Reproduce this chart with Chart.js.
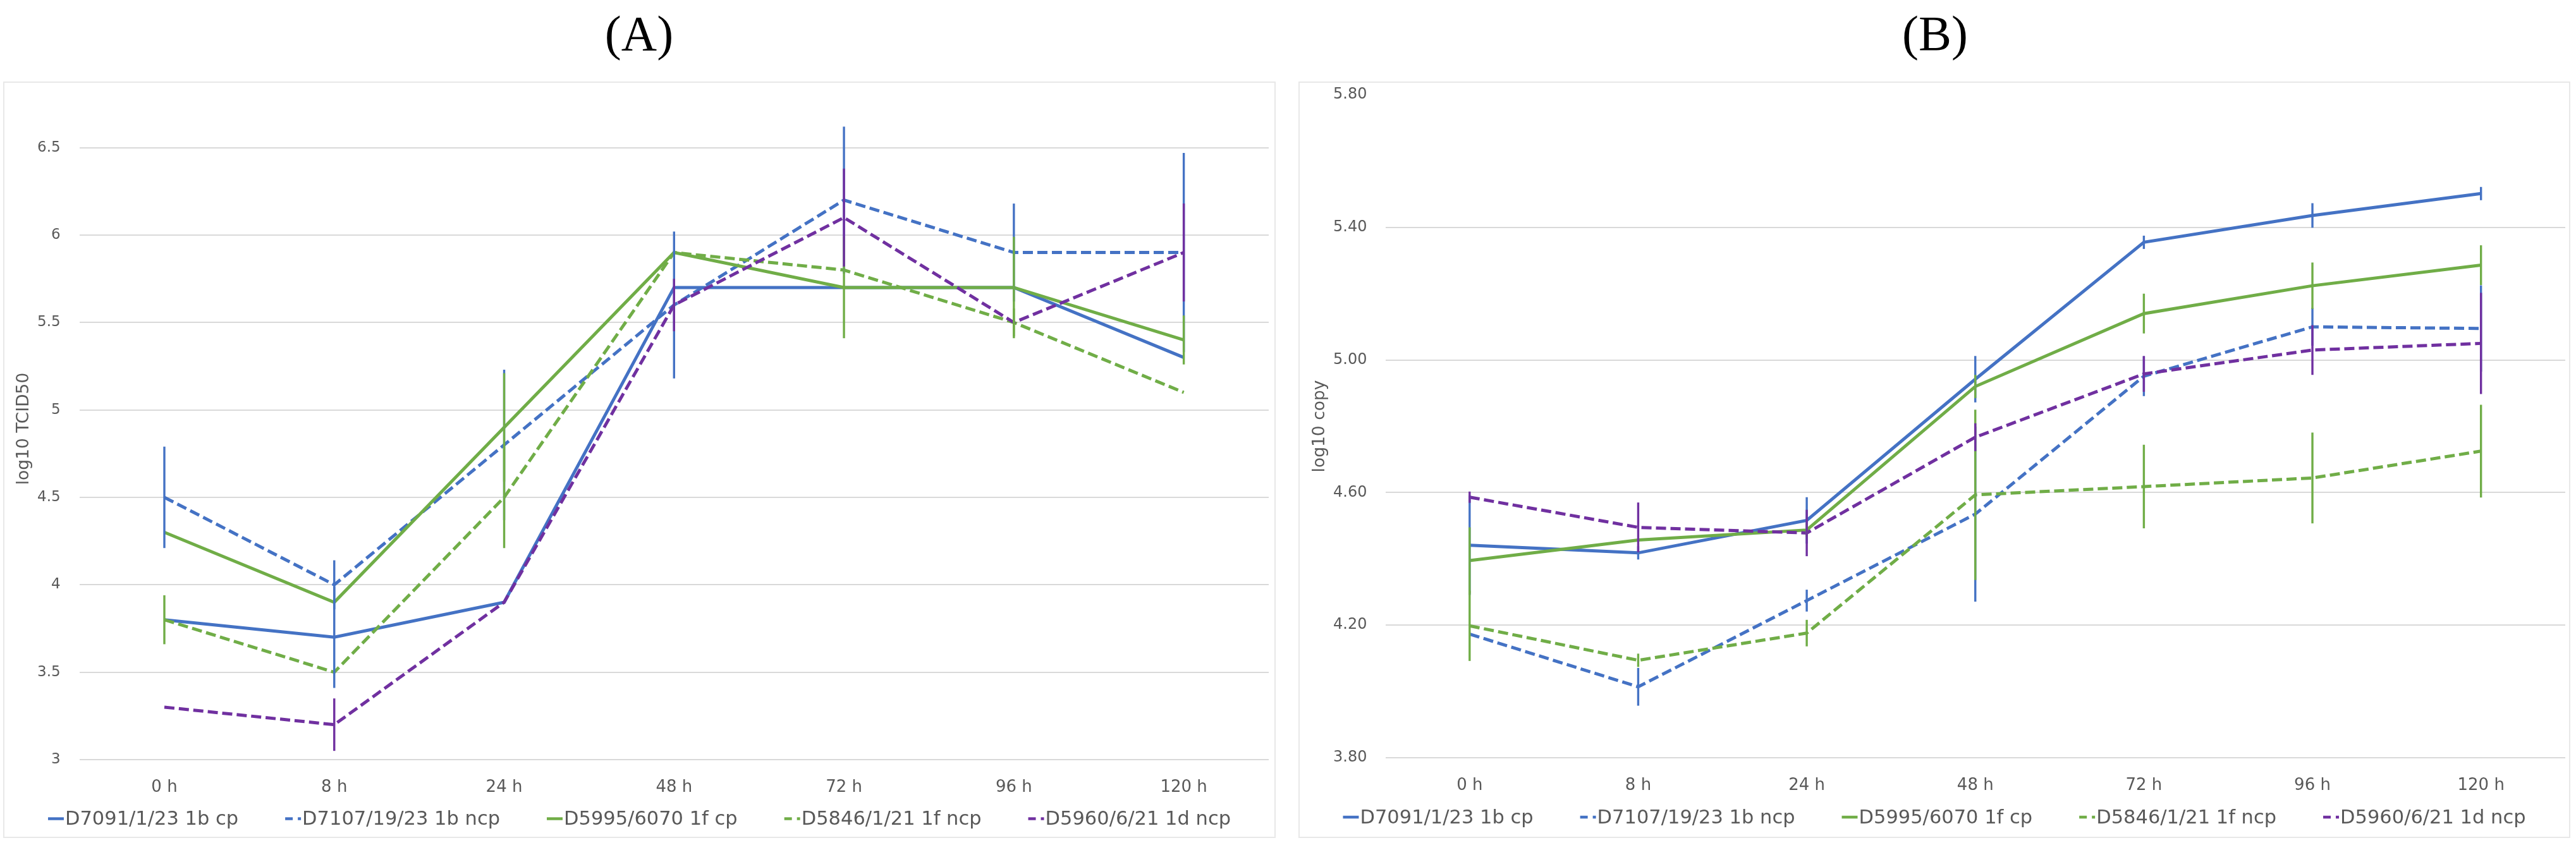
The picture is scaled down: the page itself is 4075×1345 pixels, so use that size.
<!DOCTYPE html>
<html><head><meta charset="utf-8">
<script src="https://cdn.jsdelivr.net/npm/chart.js@4.4.1/dist/chart.umd.min.js"></script>
<style>
html,body{margin:0;padding:0;background:#fff;width:4075px;height:1345px;overflow:hidden;}
.panel{position:absolute;top:129px;height:1197px;}
.ttl{position:absolute;top:14px;font-family:"Liberation Serif","Times New Roman",serif;font-size:78px;line-height:78px;width:400px;text-align:center;color:#000;}
</style></head><body>
<div class="ttl" style="left:811px">(A)</div>
<div class="ttl" style="left:2861px">(B)</div>
<div class="panel" style="left:5px;width:2013px"><canvas id="cA"></canvas></div>
<div class="panel" style="left:2054px;width:2012px"><canvas id="cB"></canvas></div>
<script>
// ---------- data ----------
const categories = ['0 h', '8 h', '24 h', '48 h', '72 h', '96 h', '120 h'];
const seriesNames = ['D7091/1/23 1b cp', 'D7107/19/23 1b ncp', 'D5995/6070 1f cp', 'D5846/1/21 1f ncp', 'D5960/6/21 1d ncp'];

// Panel A: log10 TCID50
const tcidD7091 = [3.8, 3.7, 3.9, 5.7, 5.7, 5.7, 5.3];
const tcidD7107 = [4.5, 4.0, 4.8, 5.6, 6.2, 5.9, 5.9];
const tcidD5995 = [4.3, 3.9, 4.9, 5.9, 5.7, 5.7, 5.4];
const tcidD5846 = [3.8, 3.5, 4.5, 5.9, 5.8, 5.5, 5.1];
const tcidD5960 = [3.3, 3.2, 3.9, 5.6, 6.1, 5.5, 5.9];
// Panel A error (±)
const tcidErrD7091 = [0, 0.29, 0, 0, 0, 0, 0];
const tcidErrD7107 = [0.29, 0.14, 0.43, 0.42, 0.42, 0.28, 0.57];
const tcidErrD5995 = [0, 0, 0.31, 0, 0.29, 0.29, 0.14];
const tcidErrD5846 = [0.14, 0, 0.29, 0, 0, 0.08, 0];
const tcidErrD5960 = [0, 0.15, 0, 0.15, 0.28, 0, 0.28];
const tcidTicks = [3, 3.5, 4, 4.5, 5, 5.5, 6, 6.5];

// Panel B: log10 copy
const copyD7091 = [4.441, 4.418, 4.516, 4.942, 5.355, 5.436, 5.502];
const copyD7107 = [4.173, 4.014, 4.274, 4.535, 4.951, 5.10, 5.095];
const copyD5995 = [4.395, 4.457, 4.487, 4.92, 5.14, 5.224, 5.286];
const copyD5846 = [4.198, 4.094, 4.176, 4.593, 4.618, 4.644, 4.725];
const copyD5960 = [4.586, 4.495, 4.478, 4.767, 4.958, 5.03, 5.05];
// Panel B error (±)
const copyErrD7091 = [0.15, 0.02, 0.07, 0.07, 0.02, 0.037, 0.02];
const copyErrD7107 = [0, 0.057, 0.033, 0.264, 0.06, 0.057, 0.13];
const copyErrD5995 = [0.1, 0, 0.02, 0.035, 0.06, 0.07, 0.06];
const copyErrD5846 = [0.106, 0.02, 0.04, 0.257, 0.126, 0.137, 0.14];
const copyErrD5960 = [0.017, 0.075, 0.07, 0.042, 0.054, 0.075, 0.153];
const copyTicks = [3.8, 4.2, 4.6, 5.0, 5.4, 5.8];

// ---------- styling ----------
const BLUE = '#4472C4', GREEN = '#70AD47', PURPLE = '#7030A0', TXT = '#595959', GRID = '#d9d9d9';
const FONT = 'DejaVu Sans';
const colors = [BLUE, BLUE, GREEN, GREEN, PURPLE];
const dashed = [false, true, false, true, true];
const DASH = [16, 7];

const extras = {
  id: 'extras',
  afterDatasetsDraw(chart) {
    const ctx = chart.ctx, xs = chart.scales.x, ys = chart.scales.y;
    chart.data.datasets.forEach((ds) => {
      ctx.save();
      ctx.strokeStyle = ds.borderColor;
      ctx.lineWidth = 3.4;
      ctx.lineCap = 'butt';
      ds.data.forEach((v, j) => {
        const e = ds.errors[j];
        if (!e) return;
        const px = xs.getPixelForValue(j);
        ctx.beginPath();
        ctx.moveTo(px, ys.getPixelForValue(v + e));
        ctx.lineTo(px, ys.getPixelForValue(v - e));
        ctx.stroke();
      });
      ctx.restore();
    });
  },
  afterDraw(chart, args, opts) {
    const ctx = chart.ctx;
    ctx.save();
    ctx.strokeStyle = '#e8e8e8';
    ctx.lineWidth = 2;
    ctx.strokeRect(1, 1, chart.width - 2, chart.height - 2);
    // legend
    ctx.font = opts.legendSize + 'px "' + FONT + '"';
    const gap = opts.legendGap, sw = 25, sg = 2;
    const ws = chart.data.datasets.map(ds => sw + sg + ctx.measureText(ds.label).width);
    const total = ws.reduce((a, b) => a + b, 0) + gap * (ws.length - 1);
    let x = chart.width / 2 - total / 2;
    const y = opts.legendY;
    chart.data.datasets.forEach((ds, i) => {
      ctx.strokeStyle = ds.borderColor;
      ctx.lineWidth = 4.5;
      ctx.setLineDash(ds.borderDash && ds.borderDash.length ? [12, 8] : []);
      ctx.beginPath();
      ctx.moveTo(x, y);
      ctx.lineTo(x + sw, y);
      ctx.stroke();
      ctx.setLineDash([]);
      ctx.fillStyle = TXT;
      ctx.textBaseline = 'middle';
      ctx.textAlign = 'left';
      ctx.fillText(ds.label, x + sw + sg, y + 2);
      x += ws[i] + gap;
    });
    ctx.restore();
  }
};

function makeDatasets(values, errors) {
  return values.map((v, i) => ({
    label: seriesNames[i],
    data: v,
    errors: errors[i],
    borderColor: colors[i],
    backgroundColor: colors[i],
    borderWidth: 5,
    borderDash: dashed[i] ? DASH : [],
    pointRadius: 0,
    pointHoverRadius: 0,
    tension: 0,
    fill: false,
    order: 4 - i
  }));
}

function makeChart(id, cfg) {
  return new Chart(document.getElementById(id), {
    type: 'line',
    data: { labels: categories, datasets: makeDatasets(cfg.values, cfg.errors) },
    plugins: [extras],
    options: {
      responsive: true,
      maintainAspectRatio: false,
      animation: false,
      events: [],
      layout: { autoPadding: false, padding: { top: cfg.padTop, right: cfg.padRight, left: 0, bottom: 0 } },
      plugins: {
        legend: { display: false },
        tooltip: { enabled: false },
        extras: { legendY: cfg.legendY, legendSize: 30.5, legendGap: 74 }
      },
      scales: {
        x: {
          type: 'category',
          offset: true,
          grid: { display: false, drawTicks: false },
          border: { display: false },
          ticks: { color: TXT, font: { family: FONT, size: 26 }, padding: 28.4, maxRotation: 0, autoSkip: false },
          afterFit: s => { s.height = cfg.xHeight; }
        },
        y: {
          min: cfg.min,
          max: cfg.max,
          grid: {
            drawTicks: true,
            tickLength: cfg.yTickPad,
            tickColor: 'rgba(0,0,0,0)',
            lineWidth: 2,
            color: c => (c.tick && cfg.hideTop && c.tick.value >= cfg.tickVals[cfg.tickVals.length - 1] - 1e-6) ? 'rgba(0,0,0,0)' : GRID
          },
          border: { display: false },
          afterBuildTicks: s => { s.ticks = cfg.tickVals.map(v => ({ value: v })); },
          ticks: {
            color: TXT,
            font: { family: FONT, size: cfg.yTickSize },
            padding: 0,
            callback: cfg.fmt
          },
          title: {
            display: true,
            text: cfg.yTitle,
            color: TXT,
            font: { family: FONT, size: 26.5 },
            padding: { top: cfg.titlePad, bottom: 0 }
          },
          afterFit: s => { s.width = cfg.yWidth; }
        }
      }
    }
  });
}

makeChart('cA', {
  values: [tcidD7091, tcidD7107, tcidD5995, tcidD5846, tcidD5960],
  errors: [tcidErrD7091, tcidErrD7107, tcidErrD5995, tcidErrD5846, tcidErrD5960],
  min: 3, max: 6.784, tickVals: tcidTicks, hideTop: false,
  fmt: v => String(+Number(v).toFixed(1)),
  yTitle: 'log10 TCID50', yTickSize: 23, yTickPad: 30, titlePad: 17.1, yWidth: 120.6,
  padTop: 26, padRight: 11, xHeight: 124, legendY: 1166.5
});

makeChart('cB', {
  values: [copyD7091, copyD7107, copyD5995, copyD5846, copyD5960],
  errors: [copyErrD7091, copyErrD7107, copyErrD5995, copyErrD5846, copyErrD5960],
  min: 3.8, max: 5.8, tickVals: copyTicks, hideTop: true,
  fmt: v => Number(v).toFixed(2),
  yTitle: 'log10 copy', yTickSize: 24, yTickPad: 29, titlePad: 18.1, yWidth: 137.5,
  padTop: 21, padRight: 8, xHeight: 127, legendY: 1164
});
</script>
</body></html>
